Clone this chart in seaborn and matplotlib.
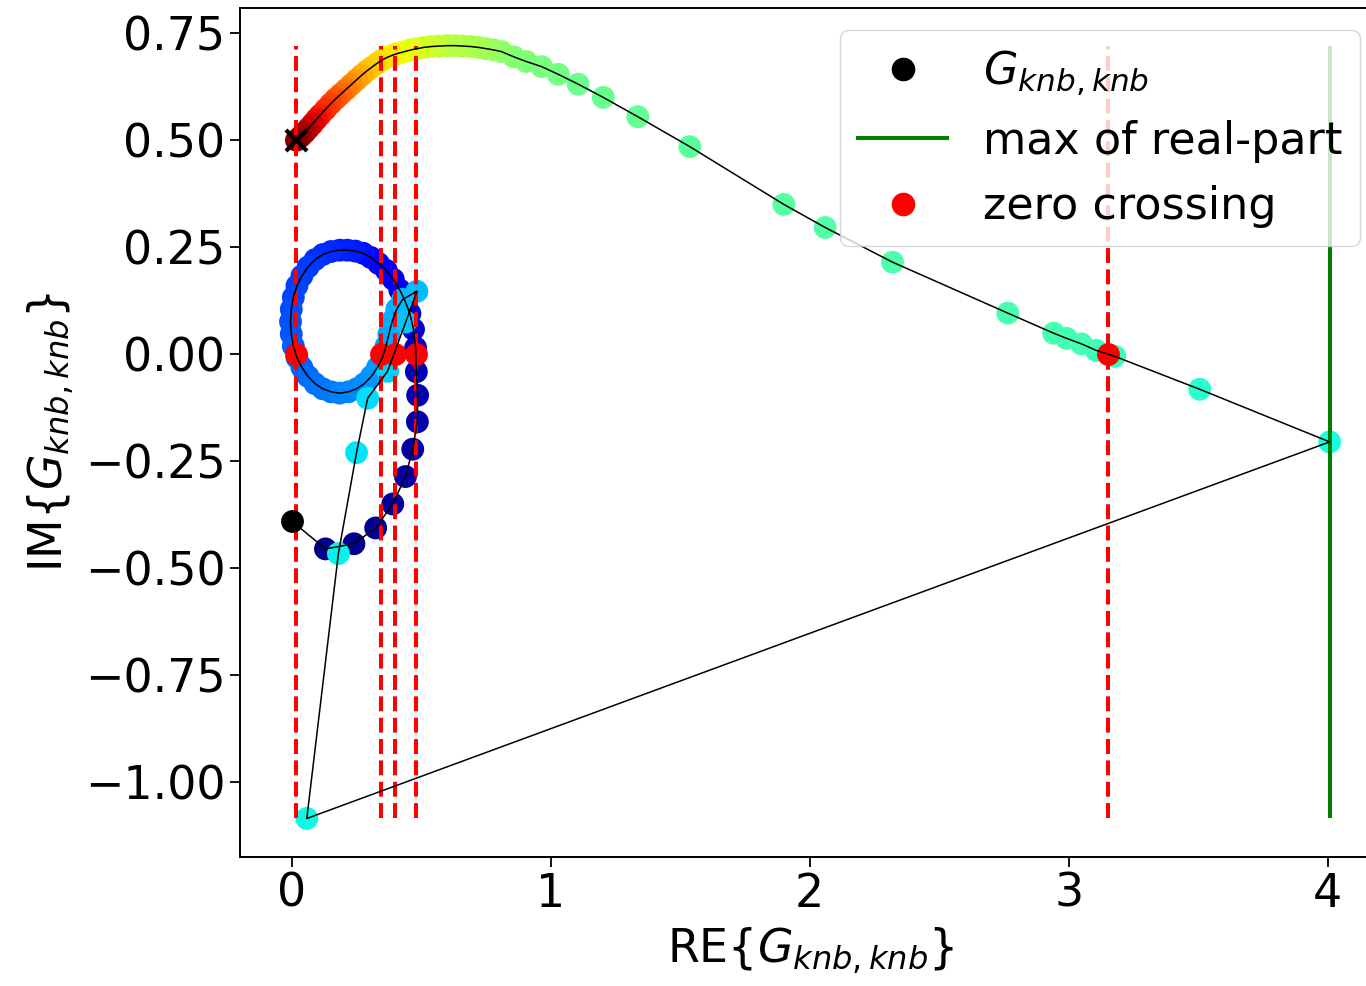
import numpy as np
import pandas as pd
import matplotlib
matplotlib.use("Agg")
import matplotlib.pyplot as plt
import seaborn as sns
from matplotlib.lines import Line2D

# ---- data (real part, imaginary part, colour index) ----
re_vals = [
    0.000, 0.130, 0.240, 0.324, 0.390, 0.439, 0.467, 0.485, 0.486, 0.481,
    0.478, 0.470, 0.456, 0.437, 0.417, 0.392, 0.365,
    0.335, 0.305, 0.275, 0.245, 0.215, 0.185, 0.152, 0.120, 0.090, 0.063,
    0.039, 0.020, 0.006, -0.002, -0.005, -0.002, 0.006, 0.020, 0.039, 0.063,
    0.090, 0.120, 0.152, 0.185, 0.218, 0.250, 0.280, 0.307, 0.331, 0.350,
    0.364, 0.375, 0.388, 0.405, 0.428, 0.483,
    0.440, 0.370, 0.293, 0.250, 0.180, 0.058,
    4.008, 3.506, 3.178, 3.106, 3.050, 2.992, 2.942, 2.765, 2.320, 2.060,
    1.900, 1.537, 1.336, 1.203, 1.106, 1.029, 0.965, 0.905, 0.857,
    0.810, 0.780, 0.750, 0.720, 0.690, 0.660, 0.630, 0.600, 0.570, 0.540,
    0.510, 0.485, 0.460, 0.435, 0.410, 0.390, 0.370, 0.350, 0.330, 0.310,
    0.290, 0.270, 0.250, 0.230, 0.210, 0.190, 0.170, 0.150, 0.130, 0.110,
    0.095, 0.080, 0.065, 0.050, 0.035, 0.018,
]
im_vals = [
    -0.390, -0.455, -0.443, -0.406, -0.350, -0.286, -0.222, -0.158, -0.096, -0.041,
    0.015, 0.058, 0.095, 0.125, 0.150, 0.175, 0.196,
    0.212, 0.226, 0.236, 0.241, 0.243, 0.243, 0.240, 0.233, 0.221, 0.204,
    0.183, 0.160, 0.133, 0.105, 0.076, 0.047, 0.019, -0.008, -0.031, -0.052,
    -0.069, -0.081, -0.088, -0.091, -0.088, -0.081, -0.069, -0.052, -0.031, -0.008,
    0.019, 0.047, 0.078, 0.105, 0.128, 0.147,
    0.075, -0.040, -0.103, -0.230, -0.466, -1.085,
    -0.205, -0.082, -0.005, 0.009, 0.024, 0.037, 0.049, 0.096, 0.215, 0.296,
    0.350, 0.485, 0.555, 0.600, 0.631, 0.654, 0.672, 0.684, 0.695,
    0.707, 0.711, 0.714, 0.717, 0.719, 0.720, 0.721, 0.721, 0.720, 0.719,
    0.717, 0.714, 0.711, 0.707, 0.703, 0.699, 0.694, 0.688, 0.680, 0.671,
    0.662, 0.652, 0.641, 0.630, 0.619, 0.608, 0.597, 0.585, 0.572, 0.559,
    0.549, 0.538, 0.528, 0.518, 0.509, 0.500,
]
color_idx = [
    0.000, 0.010, 0.015, 0.020, 0.025, 0.030, 0.035, 0.040, 0.045, 0.050,
    0.055, 0.060, 0.070, 0.080, 0.090, 0.100, 0.110,
    0.120, 0.130, 0.140, 0.150, 0.155, 0.160, 0.165, 0.170, 0.175, 0.180,
    0.185, 0.190, 0.195, 0.200, 0.205, 0.210, 0.215, 0.220, 0.225, 0.230,
    0.235, 0.240, 0.245, 0.250, 0.255, 0.260, 0.265, 0.270, 0.275, 0.280,
    0.285, 0.290, 0.295, 0.300, 0.305, 0.310,
    0.320, 0.330, 0.340, 0.350, 0.360, 0.370,
    0.380, 0.400, 0.420, 0.425, 0.430, 0.430, 0.435, 0.440, 0.445, 0.450,
    0.455, 0.460, 0.470, 0.475, 0.480, 0.490, 0.495, 0.500, 0.510,
    0.520, 0.530, 0.540, 0.550, 0.555, 0.560, 0.565, 0.570, 0.580, 0.590,
    0.600, 0.610, 0.620, 0.630, 0.640, 0.650, 0.660, 0.670, 0.680, 0.690,
    0.700, 0.720, 0.740, 0.760, 0.780, 0.800, 0.820, 0.840, 0.860, 0.880,
    0.900, 0.920, 0.940, 0.960, 0.980, 1.000,
]
zero_crossings = [0.018, 0.346, 0.398, 0.481, 3.150]
max_real = 4.008

x_ticks = [0, 1, 2, 3, 4]
y_ticks = [-1.00, -0.75, -0.50, -0.25, 0.00, 0.25, 0.50, 0.75]
legend_labels = [r"$G_{knb, knb}$", "max of real-part", "zero crossing"]

# ---- figure ----
FS = 33
plt.rcParams["font.family"] = ["DejaVu Sans"]
plt.rcParams["mathtext.fontset"] = "dejavusans"

fig = plt.figure(figsize=(13.66, 9.86), dpi=100)
ax = fig.add_axes([240 / 1366, 129 / 986, 1142 / 1366, 849 / 986])

df = pd.DataFrame({"re": re_vals, "im": im_vals, "c": color_idx})
ymin, ymax = min(im_vals), max(im_vals)
MS = 270
jet = matplotlib.colormaps["jet"]

sns.scatterplot(data=df.iloc[1:], x="re", y="im", hue="c", palette=jet,
                hue_norm=(0, 1), s=MS, linewidth=0, legend=False, ax=ax, zorder=2)
ax.vlines(zero_crossings, ymin, ymax, colors="red", linestyles="--",
          linewidth=2.9, zorder=3)
ax.vlines([max_real], ymin, ymax, colors="green", linewidth=2.9, zorder=3)
sns.scatterplot(x=zero_crossings, y=[0.0] * len(zero_crossings), color="red",
                s=MS, linewidth=0, ax=ax, zorder=4)
sns.scatterplot(x=[re_vals[0]], y=[im_vals[0]], color="black", s=MS,
                linewidth=0, ax=ax, zorder=4)
sns.lineplot(data=df, x="re", y="im", sort=False, estimator=None, color="black",
             linewidth=1.1, ax=ax, zorder=5)
sns.scatterplot(x=[re_vals[-1]], y=[im_vals[-1]], marker="x", color="black",
                s=230, linewidth=3, ax=ax, zorder=6)

ax.set_xlim(-0.2, 4.21)
ax.set_ylim(-1.175, 0.809)
ax.set_xticks(x_ticks)
ax.set_yticks(y_ticks)
ax.tick_params(labelsize=FS, length=7, width=1.3)
for sp in ax.spines.values():
    sp.set_linewidth(1.4)
ax.set_xlabel(r"RE$\{G_{knb,knb}\}$", fontsize=FS, labelpad=6)
ax.set_ylabel(r"IM$\{G_{knb,knb}\}$", fontsize=FS, labelpad=6)

handles = [
    Line2D([], [], marker="o", color="black", linestyle="", markersize=16),
    Line2D([], [], color="green", linewidth=2.9),
    Line2D([], [], marker="o", color="red", linestyle="", markersize=16),
]
ax.legend(handles, legend_labels, loc="upper right", fontsize=32)

fig.savefig("out.png", dpi=100)
